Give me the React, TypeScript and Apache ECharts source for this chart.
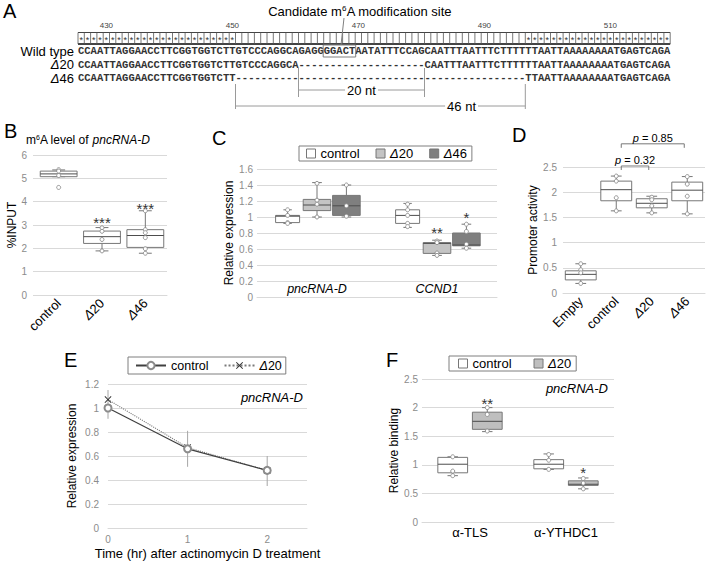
import React, { useEffect, useRef } from 'react';
import * as echarts from 'echarts';

const FONT = '"Liberation Sans", Arial, Helvetica, sans-serif';
const MONO = '"Liberation Mono", "DejaVu Sans Mono", monospace';
const GRID_COLOR = '#d9d9d9';
const TICK_COLOR = '#8c8c8c';
const BOX_STROKE = '#777777';
const MEDIAN_STROKE = '#4d4d4d';
const POINT_STROKE = '#8a8a8a';

// ---------------- Panel A data ----------------
const seqLabels = ['Wild type', 'Δ20', 'Δ46'];
const seqRows = [
  'CCAATTAGGAACCTTCGGTGGTCTTGTCCCAGGCA' + 'GAGGGGACTAATATTTCCAG' + 'CAATTTAATTTCTTTT' + 'TTAATTAAAAAAAATGAGTCAGA',
  'CCAATTAGGAACCTTCGGTGGTCTTGTCCCAGGCA' + '-'.repeat(20) + 'CAATTTAATTTCTTTT' + 'TTAATTAAAAAAAATGAGTCAGA',
  'CCAATTAGGAACCTTCGGTGGTCTT' + '-'.repeat(46) + 'TTAATTAAAAAAAATGAGTCAGA',
];
const rulerFirstPosition = 426;
const rulerTicks = [430, 450, 470, 490, 510];
const motif = 'GGACT';
const deletionLabels = ['20 nt', '46 nt'];

// ---------------- Panel B data ----------------
const bCategories = ['control', 'Δ20', 'Δ46'];
// [min, q1, median, q3, max]
const bBoxes = [
  [5.07, 5.07, 5.19, 5.31, 5.36],
  [1.89, 2.21, 2.5, 2.74, 2.89],
  [1.79, 2.04, 2.55, 2.8, 3.61],
];
const bPoints = [
  [5.37, 5.31, 5.12, 4.61],
  [2.88, 2.73, 2.38, 1.89],
  [3.61, 2.8, 2.67, 2.46, 1.98, 1.79],
];
const bStars = [
  { cat: 1, y: 3.26, mark: '***' },
  { cat: 2, y: 3.9, mark: '***' },
];

// ---------------- Panel C data ----------------
const cCategories = ['pncRNA-D', 'CCND1'];
const cControlBoxes = [
  [0.92, 0.93, 1.01, 1.02, 1.09],
  [0.87, 0.92, 1.02, 1.09, 1.17],
];
const cD20Boxes = [
  [1.0, 1.08, 1.15, 1.22, 1.43],
  [0.52, 0.545, 0.67, 0.68, 0.71],
];
const cD46Boxes = [
  [1.0, 1.02, 1.14, 1.27, 1.4],
  [0.61, 0.64, 0.65, 0.8, 0.91],
];
const cControlPoints = [
  [1.09, 1.02, 0.93, 0.92],
  [1.16, 1.09, 1.02, 0.92, 0.88],
];
const cD20Points = [
  [1.42, 1.21, 1.16, 1.0],
  [0.7, 0.68, 0.55, 0.52],
];
const cD46Points = [
  [1.4, 1.14, 1.01],
  [0.91, 0.82, 0.66, 0.61],
];
const cD20Stars = [{ cat: 1, y: 0.86, mark: '**' }];
const cD46Stars = [{ cat: 1, y: 1.04, mark: '*' }];

// ---------------- Panel D data ----------------
const dCategories = ['Empty', 'control', 'Δ20', 'Δ46'];
const dBoxes = [
  [0.19, 0.26, 0.37, 0.44, 0.58],
  [1.63, 1.83, 2.05, 2.22, 2.32],
  [1.59, 1.69, 1.78, 1.87, 1.92],
  [1.57, 1.83, 2.04, 2.2, 2.31],
];
const dPoints = [
  [0.58, 0.46, 0.4, 0.19],
  [2.32, 2.22, 1.89, 1.63],
  [1.9, 1.85, 1.73, 1.59],
  [2.31, 2.16, 1.92, 1.57],
];
const dPBrackets = [
  { from: 1, to: 2, y: 2.52, p: '0.32' },
  { from: 1, to: 3, y: 2.96, p: '0.85' },
];

// ---------------- Panel E data ----------------
const eTimes = [0, 1, 2];
const eControl = [1.0, 0.66, 0.48];
const eD20 = [1.07, 0.67, 0.48];
const eErrLow = [0.91, 0.51, 0.35];
const eErrHigh = [1.15, 0.81, 0.6];

// ---------------- Panel F data ----------------
const fCategories = ['α-TLS', 'α-YTHDC1'];
const fControlBoxes = [
  [0.81, 0.86, 1.01, 1.13, 1.14],
  [0.92, 0.93, 1.01, 1.09, 1.19],
];
const fD20Boxes = [
  [1.58, 1.62, 1.76, 1.92, 2.0],
  [0.58, 0.64, 0.66, 0.72, 0.77],
];
const fControlPoints = [
  [1.14, 0.89, 0.81],
  [1.18, 1.08, 0.92],
];
const fD20Points = [
  [2.0, 1.88, 1.59],
  [0.76, 0.68, 0.58],
];
const fD20Stars = [
  { cat: 0, y: 2.14, mark: '**' },
  { cat: 1, y: 0.93, mark: '*' },
];

// ---------------- helpers ----------------
const italicRich = (size: number) => ({
  i: { fontStyle: 'italic', fontSize: size, color: '#000', fontFamily: FONT },
});
const deltaFmt = (v: string) => (v.startsWith('Δ') ? `{i|Δ}${v.slice(1)}` : v);

function boxSeries(gridIdx: number, boxes: number[][], offset: number, width: number, fill: string, name?: string) {
  return {
    type: 'custom',
    name,
    xAxisIndex: gridIdx,
    yAxisIndex: gridIdx,
    itemStyle: { color: fill, borderColor: BOX_STROKE },
    encode: { x: 0, y: [1, 2, 3, 4, 5] },
    data: boxes.map((b, i) => [i, ...b]),
    renderItem: (params: any, api: any) => {
      const cat = api.value(0);
      const band = api.size([1, 0], [cat, 0])[0];
      const cx = api.coord([cat, 0])[0] + offset * band;
      const w = width * band;
      const cap = w * 0.35;
      const y = [1, 2, 3, 4, 5].map((d) => api.coord([cat, api.value(d)])[1]);
      const st = { stroke: BOX_STROKE, lineWidth: 1 };
      return {
        type: 'group',
        children: [
          { type: 'line', shape: { x1: cx, y1: y[4], x2: cx, y2: y[3] }, style: st },
          { type: 'line', shape: { x1: cx, y1: y[0], x2: cx, y2: y[1] }, style: st },
          { type: 'line', shape: { x1: cx - cap / 2, y1: y[4], x2: cx + cap / 2, y2: y[4] }, style: st },
          { type: 'line', shape: { x1: cx - cap / 2, y1: y[0], x2: cx + cap / 2, y2: y[0] }, style: st },
          {
            type: 'rect',
            shape: { x: cx - w / 2, y: y[3], width: w, height: Math.max(y[1] - y[3], 1) },
            style: { fill, stroke: BOX_STROKE, lineWidth: 1 },
          },
          { type: 'line', shape: { x1: cx - w / 2, y1: y[2], x2: cx + w / 2, y2: y[2] }, style: { stroke: MEDIAN_STROKE, lineWidth: 1 } },
        ],
      };
    },
    z: 3,
  };
}

function pointSeries(gridIdx: number, pts: number[][], offset: number) {
  const data: number[][] = [];
  pts.forEach((arr, i) => arr.forEach((v) => data.push([i, v])));
  return {
    type: 'custom',
    xAxisIndex: gridIdx,
    yAxisIndex: gridIdx,
    data,
    renderItem: (params: any, api: any) => {
      const cat = api.value(0);
      const band = api.size([1, 0], [cat, 0])[0];
      const p = api.coord([cat, api.value(1)]);
      return {
        type: 'circle',
        shape: { cx: p[0] + offset * band, cy: p[1], r: 2 },
        style: { fill: '#fff', stroke: POINT_STROKE, lineWidth: 0.9 },
      };
    },
    z: 4,
  };
}

function starSeries(gridIdx: number, stars: { cat: number; y: number; mark: string }[], offset: number) {
  return {
    type: 'custom',
    xAxisIndex: gridIdx,
    yAxisIndex: gridIdx,
    data: stars.map((s) => [s.cat, s.y]),
    renderItem: (params: any, api: any) => {
      const cat = api.value(0);
      const band = api.size([1, 0], [cat, 0])[0];
      const p = api.coord([cat, api.value(1)]);
      return {
        type: 'text',
        x: p[0] + offset * band,
        y: p[1] + 4,
        style: {
          text: stars[params.dataIndex].mark,
          fontSize: 15,
          fontFamily: FONT,
          fill: '#333',
          align: 'center',
          verticalAlign: 'middle',
        },
      };
    },
    z: 5,
  };
}

function valueY(gridIdx: number, max: number, interval: number, name: string, nameGap: number, margin: number, tick = false) {
  return {
    type: 'value',
    gridIndex: gridIdx,
    min: 0,
    max,
    interval,
    name,
    nameLocation: 'middle',
    nameGap,
    nameTextStyle: { fontSize: 12, color: '#000', fontFamily: FONT },
    axisLabel: { color: TICK_COLOR, fontSize: 10, margin, fontFamily: FONT },
    axisLine: { show: false },
    axisTick: { show: tick, length: 4, lineStyle: { color: GRID_COLOR } },
    splitLine: { show: true, lineStyle: { color: GRID_COLOR, width: 1 } },
  };
}

function legendFmt(name: string) {
  return deltaFmt(name.slice(2));
}

// ---------------- Panel A graphics ----------------
const CW = 6.3;
const SEQ_X = 78;
const ROW_Y = [51, 64.5, 78];

function panelAGraphics() {
  const els: any[] = [];
  const text = (x: number, y: number, t: string, extra: any = {}) => ({
    type: 'text',
    x,
    y,
    style: { text: t, fontFamily: FONT, fontSize: 13, fill: '#000', align: 'left', verticalAlign: 'middle', ...extra },
  });
  const line = (x1: number, y1: number, x2: number, y2: number, stroke: string, lineWidth = 1) => ({
    type: 'line',
    shape: { x1, y1, x2, y2 },
    style: { stroke, lineWidth },
  });
  const n = seqRows[0].length;

  els.push(text(3, 11, 'A', { fontSize: 20 }));
  els.push(
    text(360, 11, 'Candidate m{sup|6}A modification site', {
      align: 'center',
      rich: { sup: { fontSize: 8, verticalAlign: 'top', fontFamily: FONT, fill: '#000', color: '#000' } },
    })
  );

  // ruler
  rulerTicks.forEach((pos) => {
    const i = pos - rulerFirstPosition;
    els.push(text(SEQ_X + i * CW + CW / 2, 25, String(pos), { fontSize: 8, align: 'center', fill: '#444' }));
  });
  const RT = 32.5;
  const RB = 44;
  els.push(line(SEQ_X, RT, SEQ_X + n * CW, RT, '#444', 1));
  els.push(line(SEQ_X, RB, SEQ_X + n * CW, RB, '#444', 2));
  for (let i = 0; i <= n; i++) {
    els.push(line(SEQ_X + i * CW, RT, SEQ_X + i * CW, RB, '#555', 0.8));
  }
  for (let i = 0; i < n; i++) {
    const c = seqRows[0][i];
    if (c !== '-' && seqRows.every((r) => r[i] === c)) {
      els.push(text(SEQ_X + i * CW + CW / 2, 39.5, '*', { fontSize: 9, align: 'center', fill: '#333' }));
    }
  }

  // sequences
  seqRows.forEach((row, r) => {
    els.push(text(SEQ_X, ROW_Y[r], row, { fontFamily: MONO, fontWeight: 'bold', fontSize: 10.5, fill: '#333' }));
    els.push(
      text(74, ROW_Y[r], deltaFmt(seqLabels[r]), {
        align: 'right',
        rich: { i: { fontStyle: 'italic', fontSize: 13, fontFamily: FONT, fill: '#000' } },
      })
    );
  });

  // motif box
  const mi = seqRows[0].indexOf(motif);
  els.push({
    type: 'rect',
    shape: { x: SEQ_X + mi * CW - 0.5, y: 45, width: motif.length * CW + 1, height: 12 },
    style: { fill: 'none', stroke: '#808080', lineWidth: 1 },
  });
  els.push(line(344, 18, 341, 45, '#808080', 1));

  // deletion brackets
  const bracketGeom = [
    { top: 68, bottom: 97, bar: 90, labelFrac: 0.5 },
    { top: 84, bottom: 109, bar: 106, labelFrac: 0.78 },
  ];
  [1, 2].forEach((r, k) => {
    const s = seqRows[r].indexOf('-');
    const e = seqRows[r].lastIndexOf('-') + 1;
    const x1 = SEQ_X + s * CW;
    const x2 = SEQ_X + e * CW;
    const g = bracketGeom[k];
    els.push(line(x1, g.top, x1, g.bottom, '#9a9a9a', 1));
    els.push(line(x2, g.top, x2, g.bottom, '#9a9a9a', 1));
    els.push(line(x1, g.bar, x2, g.bar, '#9a9a9a', 1));
    els.push(
      text(x1 + (x2 - x1) * g.labelFrac, g.bar, deletionLabels[k], {
        align: 'center',
        fontSize: 13,
        backgroundColor: '#fff',
        padding: [0, 2],
      })
    );
  });
  return els;
}

function otherGraphics() {
  const t = (x: number, y: number, s: string, extra: any = {}) => ({
    type: 'text',
    x,
    y,
    style: { text: s, fontFamily: FONT, fontSize: 20, fill: '#000', align: 'left', verticalAlign: 'middle', ...extra },
  });
  return [
    t(4, 131, 'B'),
    t(26, 140, 'm{sup|6}A level of {i|pncRNA-D}', {
      fontSize: 12,
      rich: {
        sup: { fontSize: 7, verticalAlign: 'top', fontFamily: FONT, fill: '#000' },
        i: { fontStyle: 'italic', fontSize: 12, fontFamily: FONT, fill: '#000' },
      },
    }),
    t(212, 138, 'C'),
    t(512, 135, 'D'),
    t(64, 360, 'E'),
    t(386, 360, 'F'),
    t(303, 397, 'pncRNA-D', { fontSize: 13, fontStyle: 'italic', align: 'right' }),
    t(608, 388, 'pncRNA-D', { fontSize: 13, fontStyle: 'italic', align: 'right' }),
  ];
}

function buildOption() {
  const legendText = (size: number) => ({ fontSize: size, color: '#000', fontFamily: FONT, rich: italicRich(size) });
  const rectIcon = (name: string, color: string) => ({
    name,
    icon: 'rect',
    itemStyle: { color, borderColor: BOX_STROKE, borderWidth: 1 },
  });
  return {
    animation: false,
    backgroundColor: '#ffffff',
    textStyle: { fontFamily: FONT },
    grid: [
      { left: 37, top: 155, width: 130, height: 140, outerBoundsMode: 'none' },
      { left: 257, top: 169, width: 240, height: 128, outerBoundsMode: 'none' },
      { left: 563, top: 167, width: 142, height: 126, outerBoundsMode: 'none' },
      { left: 108, top: 384, width: 199, height: 144, outerBoundsMode: 'none' },
      { left: 422, top: 379, width: 192, height: 143, outerBoundsMode: 'none' },
    ],
    legend: [
      {
        left: 299,
        top: 146,
        itemWidth: 9,
        itemHeight: 9,
        itemGap: 16,
        padding: [1, 5, 1, 7],
        borderColor: '#7f7f7f',
        borderWidth: 1,
        selectedMode: false,
        textStyle: legendText(13),
        formatter: legendFmt,
        data: [rectIcon('C:control', '#ffffff'), rectIcon('C:Δ20', '#c4c4c4'), rectIcon('C:Δ46', '#7f7f7f')],
      },
      {
        left: 128,
        top: 357,
        itemWidth: 30,
        itemHeight: 9,
        itemGap: 15,
        padding: [2, 4, 2, 7],
        borderColor: '#7f7f7f',
        borderWidth: 1,
        selectedMode: false,
        textStyle: legendText(12.5),
        formatter: legendFmt,
        data: [{ name: 'E:control' }, { name: 'E:Δ20' }],
      },
      {
        left: 449,
        top: 356,
        itemWidth: 9,
        itemHeight: 9,
        itemGap: 22,
        padding: [1, 5, 1, 9],
        borderColor: '#7f7f7f',
        borderWidth: 1,
        selectedMode: false,
        textStyle: legendText(13),
        formatter: legendFmt,
        data: [rectIcon('F:control', '#ffffff'), rectIcon('F:Δ20', '#bfbfbf')],
      },
    ],
    xAxis: [
      {
        type: 'category',
        gridIndex: 0,
        data: bCategories,
        axisTick: { show: false },
        axisLine: { lineStyle: { color: GRID_COLOR } },
        axisLabel: { rotate: 45, margin: 6, fontSize: 13, color: '#000', fontFamily: FONT, formatter: deltaFmt, rich: italicRich(13) },
      },
      {
        type: 'category',
        gridIndex: 1,
        data: cCategories,
        axisTick: { show: false },
        axisLine: { lineStyle: { color: GRID_COLOR } },
        axisLabel: { margin: -15, fontSize: 12.5, fontStyle: 'italic', color: '#000', fontFamily: FONT },
      },
      {
        type: 'category',
        gridIndex: 2,
        data: dCategories,
        axisTick: { show: false },
        axisLine: { lineStyle: { color: GRID_COLOR } },
        axisLabel: { rotate: 45, margin: 6, fontSize: 13, color: '#000', fontFamily: FONT, formatter: deltaFmt, rich: italicRich(13) },
      },
      {
        type: 'value',
        gridIndex: 3,
        min: 0,
        max: 2.5,
        interval: 1,
        name: 'Time (hr) after actinomycin D treatment',
        nameLocation: 'middle',
        nameGap: 19,
        nameTextStyle: { fontSize: 13, color: '#000', fontFamily: FONT },
        axisTick: { show: false },
        axisLine: { lineStyle: { color: GRID_COLOR } },
        splitLine: { show: false },
        axisLabel: {
          color: TICK_COLOR,
          fontSize: 10,
          margin: 6,
          fontFamily: FONT,
          showMaxLabel: false,
          formatter: (v: number) => (Number.isInteger(v) ? String(v) : ''),
        },
      },
      {
        type: 'category',
        gridIndex: 4,
        data: fCategories,
        axisTick: { show: false },
        axisLine: { lineStyle: { color: GRID_COLOR } },
        axisLabel: { margin: 4, fontSize: 13, color: '#000', fontFamily: FONT },
      },
    ],
    yAxis: [
      valueY(0, 6, 1, '%INPUT', 19, 10, true),
      valueY(1, 1.6, 0.2, 'Relative expression', 18, 4),
      valueY(2, 2.5, 0.5, 'Promoter activity', 22, 6),
      valueY(3, 1.2, 0.2, 'Relative expression', 30, 9),
      valueY(4, 2.5, 0.5, 'Relative binding', 16, 4),
    ],
    series: [
      // B
      boxSeries(0, bBoxes, 0, 0.85, '#ffffff'),
      pointSeries(0, bPoints, 0),
      starSeries(0, bStars, 0),
      // C
      boxSeries(1, cControlBoxes, -0.245, 0.2, '#ffffff', 'C:control'),
      boxSeries(1, cD20Boxes, 0, 0.23, '#c4c4c4', 'C:Δ20'),
      boxSeries(1, cD46Boxes, 0.245, 0.23, '#7f7f7f', 'C:Δ46'),
      pointSeries(1, cControlPoints, -0.245),
      pointSeries(1, cD20Points, 0),
      pointSeries(1, cD46Points, 0.245),
      starSeries(1, cD20Stars, 0),
      starSeries(1, cD46Stars, 0.245),
      // D
      boxSeries(2, dBoxes, 0, 0.87, '#ffffff'),
      pointSeries(2, dPoints, 0),
      {
        type: 'custom',
        xAxisIndex: 2,
        yAxisIndex: 2,
        data: dPBrackets.map((b) => [b.from, b.y]),
        renderItem: (params: any, api: any) => {
          const br = dPBrackets[params.dataIndex];
          const p1 = api.coord([br.from, br.y]);
          const p2 = api.coord([br.to, br.y]);
          const x1 = p1[0] + 5;
          const x2 = p2[0] - 3;
          const y = p1[1];
          return {
            type: 'group',
            children: [
              {
                type: 'polyline',
                shape: { points: [[x1, y + 4], [x1, y], [x2, y], [x2, y + 4]] },
                style: { stroke: '#777', fill: 'none', lineWidth: 1 },
              },
              {
                type: 'text',
                x: (x1 + x2) / 2,
                y: y - 6,
                style: {
                  text: `{i|p} = ${br.p}`,
                  fontSize: 11,
                  fontFamily: FONT,
                  fill: '#000',
                  align: 'center',
                  verticalAlign: 'middle',
                  rich: { i: { fontStyle: 'italic', fontSize: 11, fontFamily: FONT, fill: '#000' } },
                },
              },
            ],
          };
        },
        z: 5,
      },
      // E
      {
        type: 'custom',
        xAxisIndex: 3,
        yAxisIndex: 3,
        data: eTimes.map((t, i) => [t, eErrLow[i], eErrHigh[i]]),
        encode: { x: 0, y: [1, 2] },
        renderItem: (params: any, api: any) => {
          const a = api.coord([api.value(0), api.value(1)]);
          const b = api.coord([api.value(0), api.value(2)]);
          return { type: 'line', shape: { x1: a[0], y1: a[1], x2: b[0], y2: b[1] }, style: { stroke: '#a6a6a6', lineWidth: 1 } };
        },
        z: 2,
      },
      {
        type: 'line',
        name: 'E:Δ20',
        xAxisIndex: 3,
        yAxisIndex: 3,
        data: eTimes.map((t, i) => [t, eD20[i]]),
        symbol: 'path://M1,0 L5,4 L9,0 L10,1 L6,5 L10,9 L9,10 L5,6 L1,10 L0,9 L4,5 L0,1 Z',
        symbolSize: 7,
        itemStyle: { color: '#333' },
        lineStyle: { type: 'dotted', color: '#7a7a7a', width: 1.1 },
        z: 3,
      },
      {
        type: 'line',
        name: 'E:control',
        xAxisIndex: 3,
        yAxisIndex: 3,
        data: eTimes.map((t, i) => [t, eControl[i]]),
        symbol: 'emptyCircle',
        symbolSize: 7,
        itemStyle: { color: '#8c8c8c', borderWidth: 1 },
        lineStyle: { color: '#404040', width: 1.2 },
        z: 4,
      },
      // F
      boxSeries(4, fControlBoxes, -0.18, 0.31, '#ffffff', 'F:control'),
      boxSeries(4, fD20Boxes, 0.18, 0.31, '#bfbfbf', 'F:Δ20'),
      pointSeries(4, fControlPoints, -0.18),
      pointSeries(4, fD20Points, 0.18),
      starSeries(4, fD20Stars, 0.18),
    ],
    graphic: [...panelAGraphics(), ...otherGraphics()],
  };
}

export default function App() {
  const ref = useRef<HTMLDivElement>(null);
  useEffect(() => {
    if (!ref.current) return;
    const chart = echarts.init(ref.current, null, { renderer: 'svg' });
    chart.setOption(buildOption() as any);
    return () => chart.dispose();
  }, []);
  return (
    <div
      ref={ref}
      style={{ position: 'absolute', left: 0, top: 0, width: 713, height: 562, background: '#fff' }}
    />
  );
}
